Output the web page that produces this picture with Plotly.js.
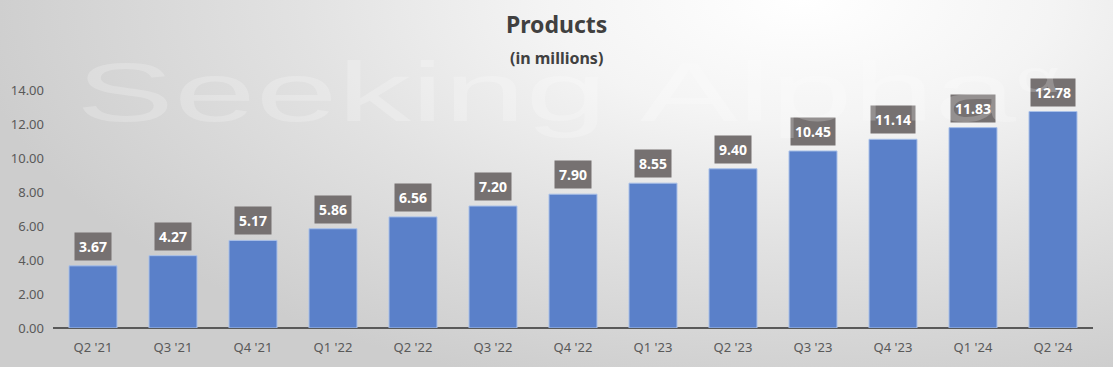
<!DOCTYPE html>
<html>
<head>
<meta charset="utf-8">
<script src="https://cdn.plot.ly/plotly-3.0.1.min.js"></script>
<style>
html,body{margin:0;padding:0;}
#wrap{position:relative;width:1113px;height:367px;overflow:hidden;background:radial-gradient(ellipse 75% 110% at 72% 0%, #ffffff 0%, #f4f4f4 30%, #e2e2e2 60%, #cdcdcd 100%);}
#chart{position:absolute;left:0;top:0;width:1113px;height:367px;}
#wm{position:absolute;left:76px;top:50px;font-family:'Liberation Sans',Arial,sans-serif;font-size:84px;color:rgba(255,255,255,0.22);white-space:nowrap;transform:scaleX(1.75);transform-origin:0 0;pointer-events:none;line-height:1;}
#wm sup{font-size:44px;}
</style>
</head>
<body>
<div id="wrap">
<div id="chart"></div>
<div id="wm">Seeking Alpha<sup>α</sup></div>
</div>
<script>
const categories = ["Q2 '21","Q3 '21","Q4 '21","Q1 '22","Q2 '22","Q3 '22","Q4 '22","Q1 '23","Q2 '23","Q3 '23","Q4 '23","Q1 '24","Q2 '24"];
const products = [3.67,4.27,5.17,5.86,6.56,7.20,7.90,8.55,9.40,10.45,11.14,11.83,12.78];
const yTicks = [0,2,4,6,8,10,12,14];

const FONT = 'Noto Sans, Open Sans, sans-serif';

const labelAnnotations = categories.map((c,i)=>({
  x: c, y: products[i], xref:'x', yref:'y',
  text: '<b>' + products[i].toFixed(2) + '</b>',
  showarrow:false, yanchor:'bottom', yshift:5,
  bgcolor:'#767171', borderpad:4,
  font:{family:FONT, size:14, color:'#ffffff'}
}));

const titleAnnotations = [
  {xref:'paper', yref:'paper', x:0.484, y:1.277, xanchor:'center', yanchor:'middle', showarrow:false,
   text:'<b>Products</b>', font:{family:FONT, size:23, color:'#404040'}},
  {xref:'paper', yref:'paper', x:0.484, y:1.134, xanchor:'center', yanchor:'middle', showarrow:false,
   text:'<b>(in millions)</b>', font:{family:FONT, size:16, color:'#404040'}}
];

const data = [{
  type:'bar', x:categories, y:products,
  marker:{color:'#5A80C9', line:{color:'#A9C0E8', width:1}},
  width:0.6, hoverinfo:'x+y'
}];

const layout = {
  width:1113, height:367,
  paper_bgcolor:'rgba(0,0,0,0)', plot_bgcolor:'rgba(0,0,0,0)',
  margin:{l:53, r:20, t:90, b:39},
  showlegend:false,
  xaxis:{
    type:'category', showgrid:false, zeroline:false,
    showline:false, ticks:'',
    tickfont:{family:FONT, size:13, color:'#595959'},
    ticklabelstandoff:10
  },
  yaxis:{
    range:[0,14.05], tickvals:yTicks, ticktext:yTicks.map(v=>v.toFixed(2)),
    showgrid:false, zeroline:true, zerolinecolor:'#595959', zerolinewidth:2,
    showline:false, ticks:'',
    tickfont:{family:FONT, size:13, color:'#595959'},
    ticklabelstandoff:8
  },
  annotations:[...titleAnnotations, ...labelAnnotations],
  bargap:0.4
};

Plotly.newPlot('chart', data, layout, {displayModeBar:false, staticPlot:true});
</script>
</body>
</html>
